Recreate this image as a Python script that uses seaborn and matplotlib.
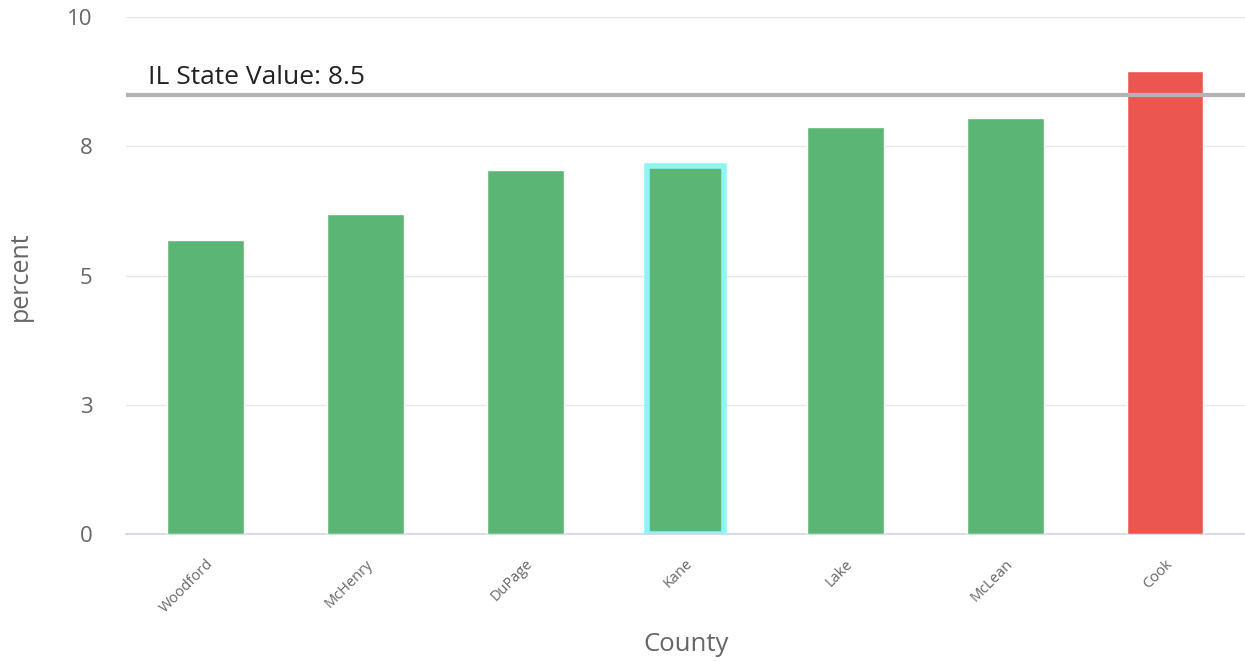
import matplotlib
matplotlib.use("Agg")
import matplotlib.pyplot as plt
import seaborn as sns
import pandas as pd

counties = ["Woodford", "McHenry", "DuPage", "Kane", "Lake", "McLean", "Cook"]
values = [5.7, 6.2, 7.05, 7.12, 7.87, 8.05, 8.96]
bar_colors = ["#5bb574", "#5bb574", "#5bb574", "#5bb574", "#5bb574", "#5bb574", "#ec5650"]
highlight = "Kane"
state_value = 8.5
state_label = "IL State Value: 8.5"
y_ticks = [0, 2.5, 5, 7.5, 10]
y_tick_labels = ["0", "3", "5", "8", "10"]

sns.set_theme(style="white")
plt.rcParams["font.family"] = ["Open Sans", "DejaVu Sans"]

df = pd.DataFrame({"County": counties, "percent": values})

fig = plt.figure(figsize=(12.45, 6.62), dpi=100)
ax = fig.add_axes([0.101, 0.193, 0.899, 0.781])

sns.barplot(data=df, x="County", y="percent", hue="County", palette=bar_colors,
            legend=False, width=0.48, ax=ax, saturation=1, zorder=3)

for patch, name in zip(ax.patches, counties):
    if name == highlight:
        patch.set_edgecolor("#8ef5f5")
        patch.set_linewidth(4)

ax.set_ylim(0, 10)
ax.set_xlim(-0.5, len(counties) - 0.5)
ax.set_yticks(y_ticks)
ax.set_yticklabels(y_tick_labels, fontsize=16, color="#666666")
ax.yaxis.grid(True, color="#e6e6e6", linewidth=1, zorder=0)
ax.tick_params(axis="y", length=0, pad=24)
ax.tick_params(axis="x", length=0, pad=16)
for lbl in ax.get_xticklabels():
    lbl.set_rotation(45)
    lbl.set_ha("right")
    lbl.set_rotation_mode("anchor")
    lbl.set_fontsize(10.5)
    lbl.set_color("#666666")

for s in ["top", "right", "left"]:
    ax.spines[s].set_visible(False)
ax.spines["bottom"].set_color("#ccd6eb")
ax.spines["bottom"].set_linewidth(1.2)

ax.axhline(state_value, color="#b3b3b3", linewidth=3, zorder=4)
ax.text(0.02, state_value + 0.1, state_label, transform=ax.get_yaxis_transform(),
        fontsize=19, color="#222222", ha="left", va="bottom", zorder=5)

ax.set_xlabel("County", fontsize=18.5, color="#666666")
ax.set_ylabel("percent", fontsize=18, color="#666666")
ax.xaxis.set_label_coords(0.501, -0.19)
ax.yaxis.set_label_coords(-0.083, 0.5)

fig.savefig("out.png", dpi=100)
